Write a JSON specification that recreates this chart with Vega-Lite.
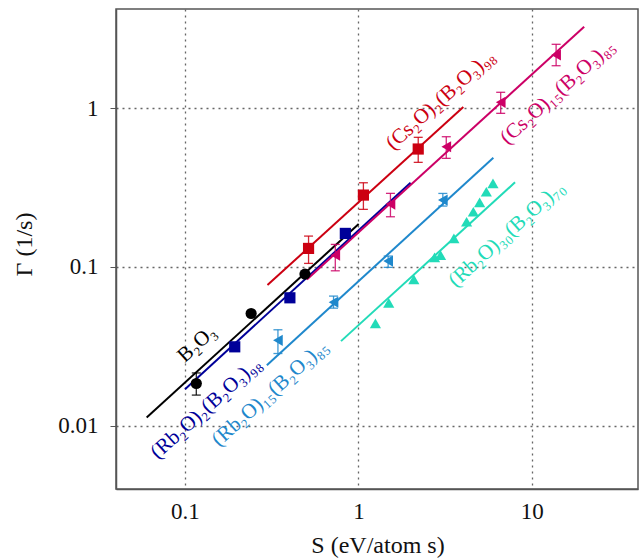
{
  "$schema": "https://vega.github.io/schema/vega-lite/v6.json",
  "width": 522,
  "height": 480,
  "autosize": "none",
  "padding": {"left": 116, "top": 9, "right": 4, "bottom": 70},
  "background": "white",
  "config": {
    "view": {"stroke": "#555", "strokeWidth": 1.5},
    "font": "Liberation Serif",
    "axis": {
      "labelFont": "Liberation Serif",
      "titleFont": "Liberation Serif",
      "labelFontSize": 23,
      "titleFontSize": 24,
      "titleFontWeight": "normal",
      "labelColor": "#111",
      "titleColor": "#111",
      "domainColor": "#555",
      "domainWidth": 1.5,
      "tickColor": "#555",
      "gridColor": "#666",
      "gridDash": [2, 4],
      "gridWidth": 1.3
    }
  },
  "datasets": {
    "pts": [
      {"series": "B", "S": 0.1162, "G": 0.01846},
      {"series": "B", "S": 0.2407, "G": 0.0509},
      {"series": "B", "S": 0.492, "G": 0.0901},
      {"series": "Rb2", "S": 0.1936, "G": 0.0314},
      {"series": "Rb2", "S": 0.4027, "G": 0.0639},
      {"series": "Rb2", "S": 0.841, "G": 0.1625},
      {"series": "Cs2", "S": 0.516, "G": 0.1307},
      {"series": "Cs2", "S": 1.069, "G": 0.2832},
      {"series": "Cs2", "S": 2.214, "G": 0.552},
      {"series": "Cs15", "S": 0.736, "G": 0.1186},
      {"series": "Cs15", "S": 1.531, "G": 0.2485},
      {"series": "Cs15", "S": 3.213, "G": 0.5705},
      {"series": "Cs15", "S": 6.62, "G": 1.086},
      {"series": "Cs15", "S": 13.82, "G": 2.157},
      {"series": "Rb15", "S": 0.3436, "G": 0.0345},
      {"series": "Rb15", "S": 0.719, "G": 0.06},
      {"series": "Rb15", "S": 1.485, "G": 0.1088},
      {"series": "Rb15", "S": 3.07, "G": 0.2634},
      {"series": "Rb30", "S": 1.254, "G": 0.0441},
      {"series": "Rb30", "S": 1.497, "G": 0.0594},
      {"series": "Rb30", "S": 2.088, "G": 0.0834},
      {"series": "Rb30", "S": 2.75, "G": 0.1148},
      {"series": "Rb30", "S": 2.979, "G": 0.1186},
      {"series": "Rb30", "S": 3.556, "G": 0.1512},
      {"series": "Rb30", "S": 4.21, "G": 0.1923},
      {"series": "Rb30", "S": 4.603, "G": 0.2223},
      {"series": "Rb30", "S": 5.006, "G": 0.2548},
      {"series": "Rb30", "S": 5.47, "G": 0.2972},
      {"series": "Rb30", "S": 5.975, "G": 0.3357}
    ],
    "errs": [
      {"series": "B", "S": 0.1162, "lo": 0.0156, "hi": 0.0215},
      {"series": "Cs2", "S": 0.516, "lo": 0.1052, "hi": 0.1563},
      {"series": "Cs2", "S": 1.069, "lo": 0.2302, "hi": 0.3385},
      {"series": "Cs2", "S": 2.214, "lo": 0.455, "hi": 0.654},
      {"series": "Cs15", "S": 0.736, "lo": 0.0945, "hi": 0.1385},
      {"series": "Cs15", "S": 1.531, "lo": 0.2068, "hi": 0.2903},
      {"series": "Cs15", "S": 3.213, "lo": 0.4823, "hi": 0.6597},
      {"series": "Cs15", "S": 6.62, "lo": 0.926, "hi": 1.256},
      {"series": "Cs15", "S": 13.82, "lo": 1.846, "hi": 2.518},
      {"series": "Rb15", "S": 0.3436, "lo": 0.0285, "hi": 0.0402},
      {"series": "Rb15", "S": 0.719, "lo": 0.055, "hi": 0.0655},
      {"series": "Rb15", "S": 1.485, "lo": 0.0993, "hi": 0.117},
      {"series": "Rb15", "S": 3.07, "lo": 0.2415, "hi": 0.29}
    ],
    "fits": [
      {"series": "B", "S": 0.0601, "G": 0.01128},
      {"series": "B", "S": 1.004, "G": 0.186},
      {"series": "Rb2", "S": 0.1, "G": 0.017},
      {"series": "Rb2", "S": 2.0, "G": 0.3388},
      {"series": "Cs2", "S": 0.299, "G": 0.0768},
      {"series": "Cs2", "S": 4.03, "G": 1.0146},
      {"series": "Cs15", "S": 0.505, "G": 0.0834},
      {"series": "Cs15", "S": 20.06, "G": 3.25},
      {"series": "Rb15", "S": 0.2965, "G": 0.02408},
      {"series": "Rb15", "S": 6.006, "G": 0.4864},
      {"series": "Rb30", "S": 0.794, "G": 0.0341},
      {"series": "Rb30", "S": 8.01, "G": 0.3405}
    ],
    "labels": [
      {"series": "B", "S": 0.1173, "G": 0.0327, "txt": "B₂O₃"},
      {"series": "Rb2", "S": 0.1323, "G": 0.0129, "txt": "(Rb₂O)₂(B₂O₃)₉₈"},
      {"series": "Rb15", "S": 0.3097, "G": 0.01604, "txt": "(Rb₂O)₁₅(B₂O₃)₈₅"},
      {"series": "Rb30", "S": 7.17, "G": 0.1608, "txt": "(Rb₂O)₃₀(B₂O₃)₇₀"},
      {"series": "Cs2", "S": 2.98, "G": 1.123, "txt": "(Cs₂O)₂(B₂O₃)₉₈"},
      {"series": "Cs15", "S": 14.1, "G": 1.261, "txt": "(Cs₂O)₁₅(B₂O₃)₈₅"}
    ]
  },
  "layer": [
    {
      "data": {"name": "fits"},
      "mark": {"type": "line", "strokeWidth": 2},
      "encoding": {
        "x": {"field": "S", "type": "quantitative",
          "scale": {"type": "log", "domain": [0.04, 41], "nice": false},
          "axis": {"values": [0.1, 1, 10], "format": "~g", "grid": true, "tickSize": 0, "labelPadding": 11,
            "title": "S (eV/atom s)", "titleX": 261.5, "titleY": 56, "titleBaseline": "middle", "titleAlign": "center"}},
        "y": {"field": "G", "type": "quantitative",
          "scale": {"type": "log", "domain": [0.004, 4.2], "nice": false},
          "axis": {"values": [0.01, 0.1, 1], "format": "~g", "grid": true, "tickSize": 6, "labelPadding": 12,
            "title": "Γ (1/s)", "titleX": -92, "titleY": 235, "titleAngle": -90, "titleBaseline": "middle", "titleAlign": "center"}},
        "detail": {"field": "series"},
        "color": {"field": "series", "type": "nominal", "legend": null,
          "scale": {"domain": ["B", "Rb2", "Rb15", "Rb30", "Cs2", "Cs15"],
            "range": ["#000000", "#000099", "#1f88cc", "#22dbb8", "#cc0011", "#cc0066"]}}
      }
    },
    {
      "data": {"name": "errs"},
      "mark": {"type": "errorbar", "ticks": true, "size": 9, "thickness": 1.3, "opacity": 0.85},
      "encoding": {
        "x": {"field": "S", "type": "quantitative", "title": "S (eV/atom s)"},
        "y": {"field": "lo", "type": "quantitative", "title": "Γ (1/s)"},
        "y2": {"field": "hi"},
        "color": {"field": "series", "type": "nominal", "legend": null}
      }
    },
    {
      "data": {"name": "pts"},
      "mark": {"type": "point", "filled": true, "opacity": 1, "size": 125},
      "encoding": {
        "x": {"field": "S", "type": "quantitative", "title": "S (eV/atom s)"},
        "y": {"field": "G", "type": "quantitative", "title": "Γ (1/s)"},
        "color": {"field": "series", "type": "nominal", "legend": null},
        "shape": {"field": "series", "type": "nominal", "legend": null,
          "scale": {"domain": ["B", "Rb2", "Rb15", "Rb30", "Cs2", "Cs15"],
            "range": ["circle", "square", "triangle-left", "triangle-up", "square", "triangle-left"]}}
      }
    },
    {
      "data": {"name": "labels"},
      "mark": {"type": "text", "angle": -42, "fontSize": 21, "font": "Liberation Serif", "align": "center", "baseline": "middle"},
      "encoding": {
        "x": {"field": "S", "type": "quantitative", "title": "S (eV/atom s)"},
        "y": {"field": "G", "type": "quantitative", "title": "Γ (1/s)"},
        "text": {"field": "txt"},
        "color": {"field": "series", "type": "nominal", "legend": null}
      }
    }
  ]
}
